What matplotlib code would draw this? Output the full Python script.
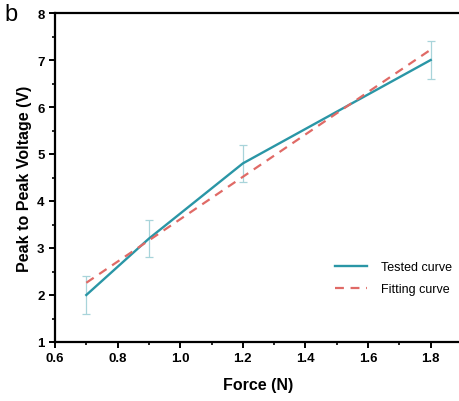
import numpy as np
import matplotlib
matplotlib.use("Agg")
import matplotlib.pyplot as plt
from matplotlib.ticker import MultipleLocator

plt.rcParams['font.family'] = ['Liberation Sans', 'DejaVu Sans']

# Dados
force = [0.7, 0.9, 1.2, 1.8]
voltage = [2.0, 3.2, 4.8, 7.0]
err = [0.4, 0.4, 0.4, 0.4]
fit_x = [0.7, 1.8]
fit_y = [2.26, 7.22]

fig = plt.figure(figsize=(4.6, 4.02), dpi=100)
ax = fig.add_axes([55 / 460, 1 - 343 / 402, 407 / 460, 329 / 402])

teal = '#2a96a6'
ax.errorbar(force, voltage, yerr=err, fmt='none', ecolor='#a8d4da',
            elinewidth=0.9, capsize=3, capthick=0.9, zorder=1)
ax.plot(force, voltage, color=teal, lw=1.7, label='Tested curve', zorder=2)
ax.plot(fit_x, fit_y, color='#e06a66', lw=1.6, ls=(0, (4, 3)),
        label='Fitting curve', zorder=3)

ax.set_xlim(0.6, 1.9)
ax.set_ylim(1, 8)
ax.xaxis.set_minor_locator(MultipleLocator(0.1))
ax.yaxis.set_major_locator(MultipleLocator(1))
ax.yaxis.set_minor_locator(MultipleLocator(0.5))
ax.set_xticks([0.6, 0.8, 1.0, 1.2, 1.4, 1.6, 1.8])
ax.set_xticklabels(['0.6', '0.8', '1.0', '1.2', '1.4', '1.6', '1.8'])

for s in ax.spines.values():
    s.set_linewidth(1.6)
ax.tick_params(which='major', direction='out', length=4, width=1.4,
               labelsize=9.5)
ax.tick_params(which='minor', direction='out', length=2.5, width=1.2)
for lab in ax.get_xticklabels() + ax.get_yticklabels():
    lab.set_fontweight('bold')

ax.set_xlabel('Force (N)', fontsize=11.5, fontweight='bold', labelpad=9)
ax.set_ylabel('Peak to Peak Voltage (V)', fontsize=11.5, fontweight='bold',
              labelpad=4)

leg = ax.legend(loc='upper left', bbox_to_anchor=(0.66, 0.28), frameon=False,
                fontsize=9, handlelength=2.6, handletextpad=1.1,
                labelspacing=0.8)

fig.text(0.01, 0.99, 'b', fontsize=17, va='top', ha='left')

fig.savefig('out.png', dpi=100)
